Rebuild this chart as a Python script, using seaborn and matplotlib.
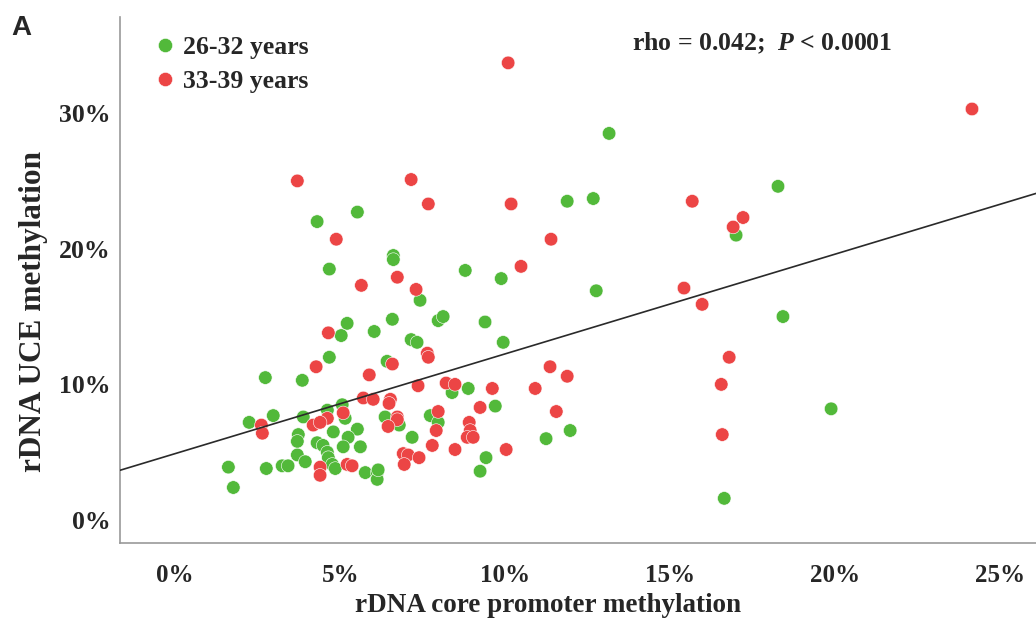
import numpy as np
import pandas as pd
import matplotlib
matplotlib.use("Agg")
import matplotlib.pyplot as plt
import seaborn as sns

# ---- data (percent) ----
green_x = [4.30, 5.52, 4.67, 5.21, 5.03, 6.03, 4.67, 2.73, 3.85, 5.06, 2.97, 3.88, 4.61, 2.24,
           5.15, 5.52, 4.79, 3.73, 3.70, 5.24, 4.30, 4.48, 4.61, 5.09, 5.61, 3.70, 3.94, 4.64,
           4.76, 4.85, 5.76, 6.12, 6.12, 1.61, 2.76, 3.24, 3.42, 1.76, 6.61, 6.61, 8.79, 9.88,
           7.42, 6.58, 7.97, 8.12, 9.39, 7.15, 7.33, 9.94, 6.42, 8.39, 8.88, 9.70, 6.36, 6.79,
           7.73, 7.97, 7.18, 9.42, 9.24, 6.15, 11.97, 11.24, 13.15, 11.88, 12.67, 18.27, 17.00,
           12.76, 18.42, 19.88, 16.64]
green_y = [22.0, 22.7, 18.5, 14.5, 13.6, 13.9, 12.0, 10.5, 10.3, 8.5, 7.7, 7.6, 8.1, 7.2,
           7.5, 6.7, 6.5, 6.3, 5.8, 6.1, 5.7, 5.5, 5.0, 5.4, 5.4, 4.8, 4.3, 4.6,
           4.1, 3.8, 3.5, 3.5, 3.0, 3.9, 3.8, 4.0, 4.0, 2.4, 19.5, 19.2, 18.4, 17.8,
           16.2, 14.8, 14.7, 15.0, 14.6, 13.3, 13.1, 13.1, 11.7, 9.4, 9.7, 8.4, 7.6, 7.0,
           7.7, 7.2, 6.1, 4.6, 3.6, 3.7, 6.6, 6.0, 28.5, 23.5, 23.7, 24.6, 21.0,
           16.9, 15.0, 8.2, 1.6]

red_x = [3.70, 4.88, 5.64, 4.64, 4.27, 5.88, 5.70, 6.00, 4.61, 4.18, 4.39, 2.61, 2.64, 4.39,
         4.39, 5.21, 5.36, 7.15, 7.67, 10.18, 11.39, 10.48, 6.73, 7.30, 7.64, 7.67, 6.58,
         11.36, 11.88, 7.36, 8.21, 8.48, 9.61, 10.91, 6.52, 6.48, 9.24, 11.55, 7.97, 6.73,
         6.73, 6.45, 7.91, 8.91, 8.94, 8.85, 9.03, 7.79, 8.48, 10.03, 6.91, 7.06, 6.94, 7.39,
         15.67, 17.21, 16.91, 15.42, 15.97, 16.79, 16.55, 16.58, 10.09, 24.15, 5.09]
red_y = [25.0, 20.7, 17.3, 13.8, 11.3, 10.7, 9.0, 8.9, 7.5, 7.0, 7.2, 7.0, 6.4, 3.9,
         3.3, 4.1, 4.0, 25.1, 23.3, 23.3, 20.7, 18.7, 17.9, 17.0, 12.3, 12.0, 11.5,
         11.3, 10.6, 9.9, 10.1, 10.0, 9.7, 9.7, 8.9, 8.6, 8.3, 8.0, 8.0, 7.6,
         7.4, 6.9, 6.6, 7.2, 6.6, 6.1, 6.1, 5.5, 5.2, 5.2, 4.9, 4.8, 4.1, 4.6,
         23.5, 22.3, 21.6, 17.1, 15.9, 12.0, 10.0, 6.3, 33.7, 30.3, 7.9]

groups = ["26-32 years", "33-39 years"]
fit_intercept = 4.9
fit_slope = 0.735
x_ticks = [0, 5, 10, 15, 20, 25]
y_ticks = [0, 10, 20, 30]

df = pd.DataFrame({
    "x": green_x + red_x,
    "y": green_y + red_y,
    "group": [groups[0]] * len(green_x) + [groups[1]] * len(red_x),
})

sns.set_style("white")
plt.rcParams["font.family"] = ["Liberation Serif", "DejaVu Serif"]
plt.rcParams["font.weight"] = "bold"
plt.rcParams["mathtext.fontset"] = "custom"
plt.rcParams["mathtext.it"] = "Liberation Serif:italic:bold"
plt.rcParams["mathtext.rm"] = "Liberation Serif:bold"

fig = plt.figure(figsize=(10.36, 6.2), dpi=100)
ax = fig.add_axes([0.116, 0.124, 0.884, 0.849])

sns.scatterplot(data=df, x="x", y="y", hue="group", hue_order=groups,
                palette=["#52b93a", "#ec4545"], s=95, linewidth=0.4,
                edgecolor="white", ax=ax, legend=True, zorder=2)

ax.axline((0, fit_intercept), slope=fit_slope, color="#2a2a2a", lw=1.2, zorder=3)

ax.set_xlim(-1.67, 26.09)
ax.set_ylim(-1.7, 37.1)
ax.set_xticks(x_ticks)
ax.set_xticklabels([f"{t}%" for t in x_ticks])
ax.set_yticks(y_ticks)
ax.set_yticklabels([f"{t}%" for t in y_ticks])
ax.tick_params(axis="x", length=0, pad=15, labelsize=18)
ax.tick_params(axis="y", length=0, pad=7, labelsize=18.5)
for lab in ax.get_xticklabels() + ax.get_yticklabels():
    lab.set_fontweight("bold")

for s in ["top", "right"]:
    ax.spines[s].set_visible(False)
for s in ["left", "bottom"]:
    ax.spines[s].set_color("#999999")
    ax.spines[s].set_linewidth(1.2)

ax.set_xlabel("rDNA core promoter methylation", fontsize=19.5, fontweight="bold")
ax.xaxis.label.set_va("center")
ax.xaxis.set_label_coords(0.467, -0.119)
ax.set_ylabel("rDNA UCE methylation", fontsize=22.5, fontweight="bold")
ax.yaxis.label.set_va("center")
ax.yaxis.set_label_coords(-0.095, 0.441)

leg = ax.legend(loc="upper left", bbox_to_anchor=(0.021, 0.997), frameon=False,
                prop={"family": "Liberation Serif", "weight": "bold", "size": 18.5},
                handlelength=0.6, handletextpad=0.4, labelspacing=0.42,
                borderaxespad=0.3, markerscale=1.05)

ax.text(0.559, 0.949, r"rho = 0.042;  $P$ < 0.0001", transform=ax.transAxes,
        fontsize=18.5, fontweight="bold", ha="left", va="center")

fig.text(0.011, 0.955, "A", family="Liberation Sans", fontweight="bold", fontsize=20,
         ha="left", va="center")

fig.savefig("out.png", dpi=100)
